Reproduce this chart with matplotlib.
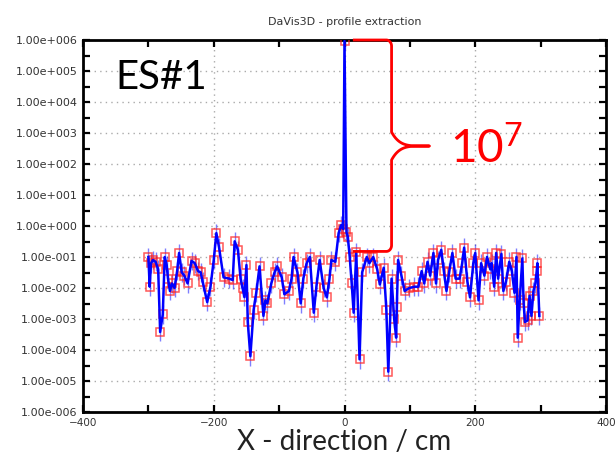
import numpy as np
import matplotlib
matplotlib.use("Agg")
import matplotlib.pyplot as plt
from matplotlib.ticker import FixedLocator, FuncFormatter


# ---------------------------------------------------------------------------
# Data
# ---------------------------------------------------------------------------

x_cm = [
    -300, -298, -296, -293, -289, -285, -282, -278, -275, -272,
    -270, -267, -264, -260, -256, -253, -249, -245, -240, -234,
    -229, -224, -220, -217, -210, -205, -200, -196, -192, -185,
    -176, -171, -168, -163, -159, -156, -153, -150, -148, -144,
    -139, -135, -130, -124, -121, -118, -112, -107, -103, -96,
    -92, -85, -81, -78, -72, -67, -63, -58, -53, -47,
    -43, -38, -32, -27, -23, -20, -14, -9, -5, -2,
    0, 3, 5, 8, 11, 14, 18, 23, 27, 34,
    38, 44, 50, 54, 60, 64, 67, 72, 76, 79,
    80, 82, 87, 92, 99, 107, 113, 118, 122, 127,
    131, 136, 140, 143, 148, 152, 156, 160, 165, 170,
    176, 180, 183, 188, 192, 197, 200, 205, 209, 214,
    218, 223, 225, 229, 232, 235, 240, 243, 247, 252,
    256, 260, 263, 265, 268, 272, 274, 276, 280, 283,
    286, 289, 292, 294, 295, 298,
]

intensity = [
    1.0e-1, 1.1e-2, 6.3e-2, 8.0e-2, 7.0e-2, 4.0e-2, 3.8e-4, 1.4e-3, 1.0e-1, 5.5e-2,
    2.0e-2, 8.0e-3, 1.4e-2, 1.0e-2, 3.5e-2, 1.35e-1, 3.2e-2, 2.5e-2, 1.4e-2, 7.5e-2,
    6.3e-2, 3.5e-2, 3.2e-2, 1.6e-2, 3.5e-3, 1.1e-2, 8.0e-2, 5.9e-1, 2.1e-1, 2.2e-2,
    2.0e-2, 1.8e-2, 3.2e-1, 1.7e-1, 2.0e-2, 1.0e-2, 5.1e-3, 5.5e-2, 8.0e-4, 6.3e-5,
    2.0e-3, 7.0e-3, 5.0e-2, 1.26e-3, 4.0e-3, 3.2e-3, 1.4e-2, 3.2e-2, 5.0e-2, 2.2e-2,
    6.3e-3, 8.0e-3, 2.0e-2, 1.0e-1, 3.2e-2, 3.2e-3, 2.0e-2, 6.3e-2, 1.0e-1, 1.6e-3,
    1.1e-2, 8.0e-2, 1.0e-2, 5.0e-3, 2.0e-2, 8.0e-2, 7.0e-2, 5.9e-1, 1.07, 8.0e-1,
    9.3e5, 6.3e-1, 4.5e-1, 1.0e-1, 1.4e-2, 1.6e-3, 1.4e-1, 5.0e-5, 3.2e-2, 1.0e-1,
    6.3e-2, 1.0e-1, 4.0e-2, 1.3e-2, 4.5e-2, 2.0e-3, 2.0e-5, 2.0e-2, 1.0e-3, 2.5e-4,
    2.5e-3, 8.0e-2, 2.5e-2, 8.0e-3, 1.0e-2, 1.1e-2, 1.1e-2, 3.5e-2, 1.4e-2, 7.0e-2,
    2.5e-2, 1.35e-1, 1.4e-2, 8.0e-2, 1.7e-1, 3.5e-2, 8.0e-3, 3.2e-2, 1.35e-1, 2.0e-2,
    2.0e-2, 6.3e-2, 2.0e-1, 1.6e-2, 5.0e-3, 6.3e-2, 1.35e-1, 4.0e-3, 6.3e-2, 2.5e-2,
    1.0e-1, 4.0e-2, 6.3e-2, 1.1e-2, 1.35e-1, 2.0e-2, 1.26e-1, 8.0e-3, 1.6e-2, 7.0e-2,
    3.5e-2, 7.0e-3, 1.0e-1, 2.5e-4, 4.0e-3, 9.0e-2, 3.2e-3, 8.0e-4, 9.0e-4, 5.6e-3,
    1.26e-3, 8.0e-3, 1.4e-2, 3.5e-2, 6.3e-2, 1.26e-3,
]

x_major = [-400, -200, 0, 200, 400]
x_minor = [-300, -100, 100, 300]
y_decades = list(range(-6, 7))

# dynamic range bracket (x in cm, y as decades)
brace_x = [15, 72, 130]
brace_decades = [6.0, 2.58, -0.82]

ERR_FACTOR = 2.0


def decade_label(v, pos):
    e = int(round(np.log10(v)))
    return f"1.00e{e:+04d}"


def brace_path(x0, xs, xt, top, mid, bot):
    """Curly brace built in (x, decade) space."""
    rx, ry = 8.0, 0.2
    t = np.linspace(0, 1, 40)
    th = np.linspace(0, np.pi / 2, 20)
    px, pl = [x0, xs - rx], [top, top]
    # top corner
    px += list(xs - rx + rx * np.sin(th))
    pl += list(top - ry + ry * np.cos(th))
    # vertical down, then flare out to the tip
    h = 0.45
    px += [xs]
    pl += [mid + h]
    flare_x = xs + (xt - xs) * t
    flare_l = mid + h * (1 - t) ** 5
    px += list(flare_x)
    pl += list(flare_l)
    px += list(flare_x[::-1])
    pl += list((2 * mid - flare_l)[::-1])
    px += [xs]
    pl += [bot + ry]
    # bottom corner
    px += list(xs - rx + rx * np.cos(th))
    pl += list(bot + ry - ry * np.sin(th))
    px += [x0]
    pl += [bot]
    return np.array(px), 10 ** np.array(pl)


# ---------------------------------------------------------------------------
# Figure
# ---------------------------------------------------------------------------

x = np.array(x_cm, dtype=float)
y = np.array(intensity, dtype=float)

fig = plt.figure(figsize=(6.15, 4.57), dpi=100)
ax = fig.add_axes([83 / 615, 45 / 457, 523 / 615, 372 / 457])

ax.set_yscale("log")
ax.set_xlim(-400, 400)
ax.set_ylim(1e-6, 1e6)

ax.errorbar(x, y, yerr=[y - y / ERR_FACTOR, y * ERR_FACTOR - y], fmt="none",
            ecolor="#0000ff", elinewidth=1.0, alpha=0.5, zorder=2)
ax.plot(x, y, ls="none", marker="s", ms=5.8, mfc="none", mec="#ff2020",
        mew=1.1, alpha=0.75, zorder=3)
ax.plot(x, y, color="#0000ff", lw=1.8, zorder=4)

# bracket + annotation
bx, by = brace_path(brace_x[0], brace_x[1], brace_x[2], *brace_decades)
ax.plot(bx, by, color="#ff0000", lw=2.0, clip_on=False, zorder=5)
ax.text(0.702, 0.669, r"$\mathregular{10^7}$", transform=ax.transAxes,
        fontsize=33, color="#ff0000", family="Lato", va="baseline", ha="left")
ax.text(0.061, 0.898, "ES#1", transform=ax.transAxes, fontsize=29,
        family="Lato", color="black", va="center", ha="left")

# axes styling
ax.xaxis.set_major_locator(FixedLocator(x_major))
ax.xaxis.set_minor_locator(FixedLocator(x_minor))
ax.yaxis.set_major_locator(FixedLocator([10.0 ** k for k in y_decades]))
ax.yaxis.set_minor_locator(FixedLocator([10.0 ** (k + 0.5) for k in y_decades[:-1]]))
ax.yaxis.set_major_formatter(FuncFormatter(decade_label))
ax.yaxis.set_minor_formatter(FuncFormatter(lambda v, p: ""))

ax.tick_params(which="both", direction="in", top=True, right=True,
               length=5, width=1.6, labelsize=8, labelcolor="#333333", pad=4)
ax.tick_params(axis="x", labelsize=7.5)
for sp in ax.spines.values():
    sp.set_linewidth(2.0)
    sp.set_color("black")

ax.grid(True, which="major", color="#aaaaaa", ls=(0, (1, 3)), lw=1.0, zorder=0)

ax.set_title("DaVis3D - profile extraction", fontsize=8, color="#333333", pad=11)
ax.set_xlabel("X - direction / cm", fontsize=20, family="Lato", color="#222222",
              labelpad=1)

fig.savefig("out.png", dpi=100)
